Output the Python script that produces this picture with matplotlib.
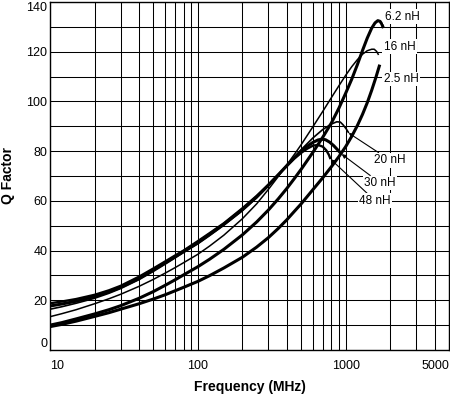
import matplotlib
matplotlib.use("Agg")
import matplotlib.pyplot as plt

plt.rcParams["font.family"] = ["Liberation Sans", "DejaVu Sans"]

# Q factor vs frequency (MHz)
f_2n5 = [10, 12, 15, 20, 25, 30, 40, 50, 60, 70, 80, 100, 120, 150, 200, 250, 300, 350, 400, 450,
         500, 600, 700, 800, 900, 1000, 1100, 1200, 1300, 1400, 1500, 1600, 1700]
q_2n5 = [9.4, 10.3, 11.6, 13.5, 15.0, 16.4, 18.6, 20.5, 22.2, 23.8, 25.2, 27.6, 29.9, 33.0, 37.3, 41.4, 45.2, 48.9, 52.4, 55.8,
         58.8, 64.5, 69.3, 73.7, 77.8, 81.8, 86.0, 90.3, 94.8, 99.5, 104.5, 109.6, 114.8]

f_6n2 = [10, 12, 15, 20, 25, 30, 40, 50, 60, 70, 80, 100, 120, 150, 200, 250, 300, 350, 400, 450,
         500, 600, 700, 800, 900, 1000, 1100, 1200, 1300, 1400, 1500, 1580, 1650, 1710, 1760, 1800]
q_6n2 = [10.0, 11.0, 12.5, 14.5, 16.2, 17.8, 20.8, 23.5, 26.0, 28.2, 30.2, 33.5, 36.5, 40.5, 46.3, 51.5, 56.3, 60.8, 65.0, 69.0,
         72.7, 79.5, 85.6, 91.3, 97.3, 103.3, 109.0, 114.8, 120.5, 125.5, 129.5, 131.6, 132.5, 132.2, 131.0, 129.5]

f_16n = [10, 12, 15, 20, 25, 30, 40, 50, 60, 70, 80, 100, 120, 150, 200, 250, 300, 350, 400, 450,
         500, 600, 700, 800, 900, 1000, 1100, 1200, 1300, 1400, 1500, 1560, 1620, 1670]
q_16n = [13.4, 14.6, 16.2, 18.6, 20.6, 22.4, 25.6, 28.4, 30.9, 33.1, 35.1, 38.5, 41.8, 46.2, 52.8, 58.8, 64.6, 69.8, 74.5, 78.7,
         82.6, 89.8, 96.0, 101.5, 106.3, 110.5, 114.0, 116.8, 119.0, 120.4, 121.0, 121.0, 120.1, 118.7]

f_20n = [10, 12, 15, 20, 25, 30, 40, 50, 60, 70, 80, 100, 120, 150, 200, 250, 300, 350, 400, 450,
         500, 600, 700, 800, 870, 920, 960, 1010, 1050]
q_20n = [16.4, 17.4, 18.8, 20.8, 22.8, 24.7, 28.3, 31.6, 34.5, 37.0, 39.2, 42.7, 46.0, 50.2, 56.0, 61.2, 66.0, 70.3, 74.2, 77.6,
         80.6, 85.3, 88.7, 90.9, 91.8, 91.7, 90.6, 88.9, 87.3]

f_30n = [10, 12, 15, 20, 25, 30, 40, 50, 60, 70, 80, 100, 120, 150, 200, 250, 300, 350, 400, 450,
         500, 550, 600, 650, 690, 730, 780, 830, 880, 940]
q_30n = [17.7, 18.5, 19.6, 21.5, 23.4, 25.2, 28.8, 32.2, 35.0, 37.5, 39.6, 43.2, 46.5, 50.6, 56.5, 61.6, 66.3, 70.5, 74.2, 77.4,
         80.0, 82.0, 83.5, 84.5, 84.8, 84.6, 83.6, 82.2, 80.6, 78.8]

f_48n = [10, 12, 15, 20, 25, 30, 40, 50, 60, 70, 80, 100, 120, 150, 200, 250, 300, 350, 400, 450,
         500, 550, 600, 650, 700, 740, 770, 790]
q_48n = [18.8, 19.5, 20.5, 22.2, 24.0, 25.8, 29.5, 32.8, 35.6, 38.0, 40.0, 43.8, 47.0, 51.0, 57.0, 62.0, 66.5, 70.5, 74.0, 77.0,
         79.3, 81.0, 82.2, 82.5, 81.8, 80.3, 78.5, 76.8]

fig = plt.figure(figsize=(4.5, 3.97), dpi=100)
ax = fig.add_axes([50 / 450, 47 / 397, 399 / 450, 348 / 397])

ax.plot(f_48n, q_48n, color="black", lw=1.7, solid_capstyle="butt")
ax.plot(f_30n, q_30n, color="black", lw=2.2, solid_capstyle="butt")
ax.plot(f_20n, q_20n, color="black", lw=1.2, solid_capstyle="butt")
ax.plot(f_16n, q_16n, color="black", lw=1.1, solid_capstyle="butt")
ax.plot(f_6n2, q_6n2, color="black", lw=2.2, solid_capstyle="butt")
ax.plot(f_2n5, q_2n5, color="black", lw=2.2, solid_capstyle="butt")

ax.set_xscale("log")
ax.set_xlim(10, 5000)
ax.set_ylim(0, 140)

ax.set_xticks([10, 100, 1000, 5000])
ax.set_xticklabels(["10", "100", "1000", "5000"])
ax.set_xticks([20, 30, 40, 50, 60, 70, 80, 90,
               200, 300, 400, 500, 600, 700, 800, 900,
               2000, 3000, 4000], minor=True)
ax.xaxis.set_minor_formatter(plt.NullFormatter())
xl = ax.get_xticklabels()
xl[0].set_horizontalalignment("left")
xl[-1].set_horizontalalignment("right")

ax.set_yticks(range(0, 141, 20))
ax.set_yticks(range(10, 140, 20), minor=True)
yl = ax.get_yticklabels()
yl[0].set_verticalalignment("bottom")
yl[-1].set_verticalalignment("top")

ax.tick_params(which="both", length=0)
ax.tick_params(axis="x", pad=7, labelsize=9)
ax.tick_params(axis="y", pad=2, labelsize=9)

ax.grid(True, which="both", color="black", lw=0.75)
ax.set_axisbelow(True)
for s in ax.spines.values():
    s.set_linewidth(1)

ax.set_xlabel("Frequency (MHz)", fontsize=10, fontweight="bold", labelpad=6)
ax.set_ylabel("Q Factor", fontsize=10, fontweight="bold", labelpad=8)

box = dict(facecolor="white", edgecolor="none", pad=1)
for txt, x, y in [("6.2 nH", 1840, 134), ("16 nH", 1810, 122), ("2.5 nH", 1810, 109)]:
    ax.text(x, y, txt, fontsize=8.5, ha="left", va="center", bbox=box, zorder=5)

arrow = dict(arrowstyle="-|>", color="black", lw=0.8, mutation_scale=6, shrinkA=0, shrinkB=0)
ax.annotate("20 nH", xy=(1048, 87.3), xytext=(1560, 76.4), fontsize=8.5,
            ha="left", va="center", bbox=box, arrowprops=arrow, zorder=5)
ax.annotate("30 nH", xy=(940, 78.8), xytext=(1340, 67.2), fontsize=8.5,
            ha="left", va="center", bbox=box, arrowprops=arrow, zorder=5)
ax.annotate("48 nH", xy=(790, 76.8), xytext=(1240, 60), fontsize=8.5,
            ha="left", va="center", bbox=box, arrowprops=arrow, zorder=5)

fig.savefig("out.png", dpi=100)
